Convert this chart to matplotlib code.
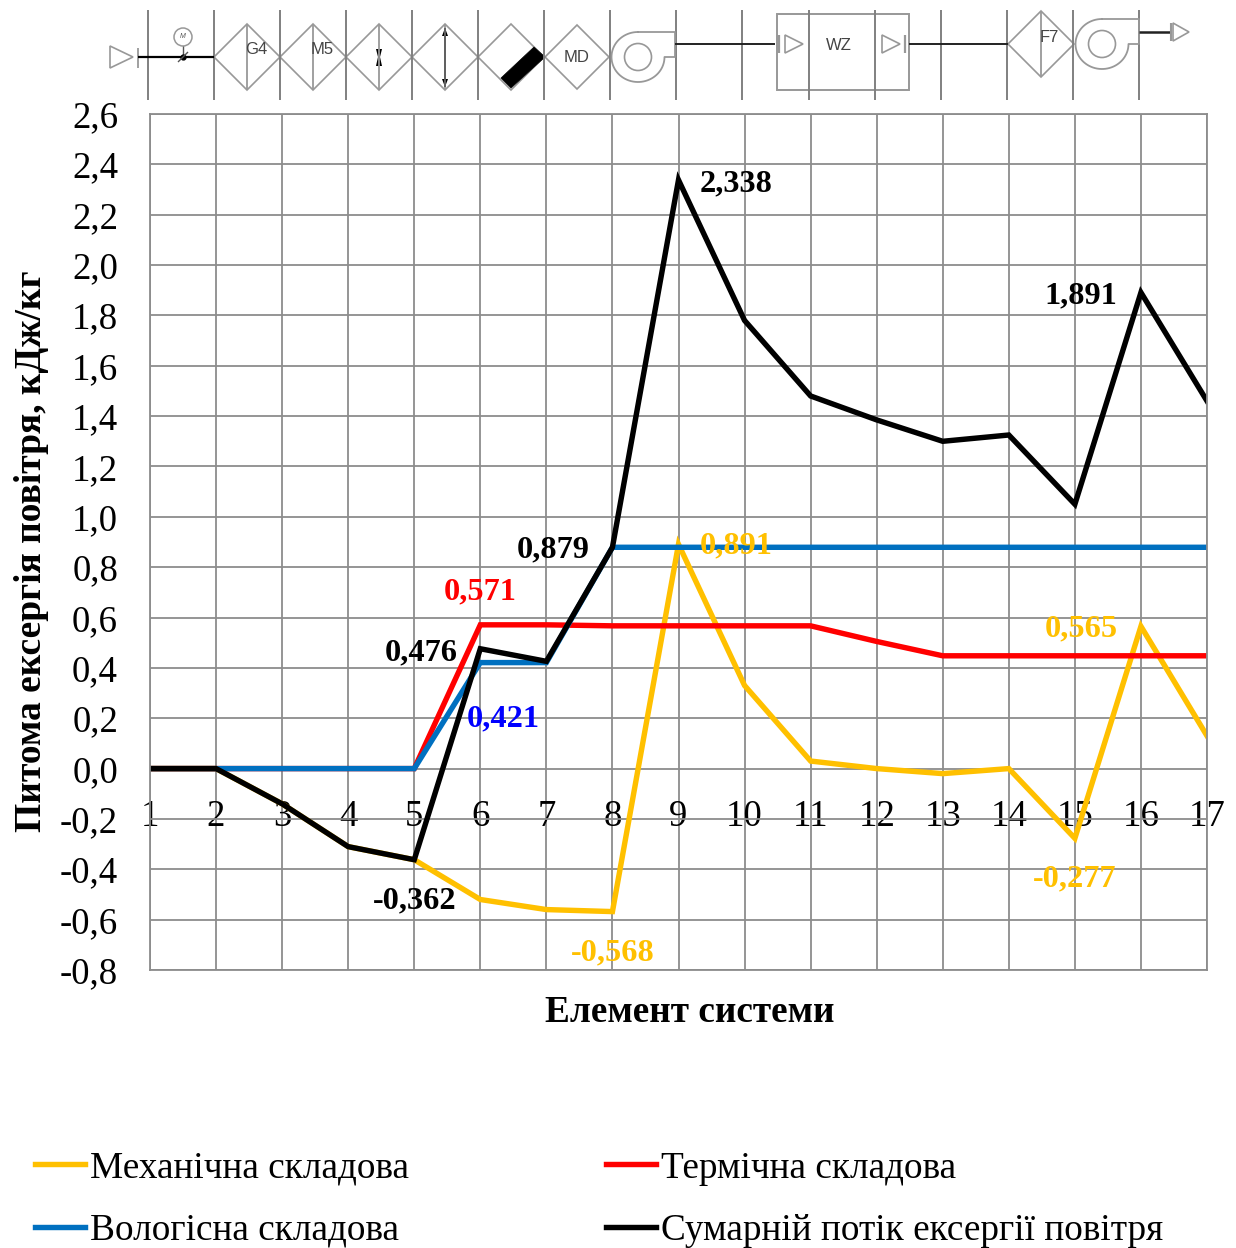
#!/usr/bin/python
import numpy as np
import matplotlib
matplotlib.use("Agg")
import matplotlib.pyplot as plt
from matplotlib.patches import Circle, Polygon, Rectangle

plt.rcParams['font.family'] = ['Liberation Serif', 'DejaVu Serif']

elementy = list(range(1, 18))
mehanichna = [0, 0, -0.14, -0.31, -0.362, -0.52, -0.56, -0.568, 0.891, 0.33, 0.03, 0.0, -0.02, 0.0, -0.277, 0.565, 0.13]
termichna = [0, 0, 0, 0, 0, 0.571, 0.571, 0.567, 0.567, 0.567, 0.567, 0.505, 0.448, 0.448, 0.448, 0.448, 0.448]
vologisna = [0, 0, 0, 0, 0, 0.421, 0.421, 0.879, 0.879, 0.879, 0.879, 0.879, 0.879, 0.879, 0.879, 0.879, 0.879]
sumarnij = [0, 0, -0.14, -0.31, -0.362, 0.476, 0.426, 0.879, 2.338, 1.78, 1.48, 1.385, 1.30, 1.325, 1.05, 1.891, 1.46]
y_ticks = [round(-0.8 + 0.2 * i, 1) for i in range(18)]
y_labels = [f"{v:.1f}".replace(".", ",") for v in y_ticks]

W, H = 1236, 1248
GRIS = "#8c8c8c"
LINEA = "#989898"

fig = plt.figure(figsize=(W / 100, H / 100), dpi=100)
ax = fig.add_axes([150 / W, 1 - 970 / H, (1207 - 150) / W, (970 - 114) / H])

l_meh, = ax.plot(elementy, mehanichna, color="#ffc000", lw=3.9, solid_joinstyle="miter", label="Механічна складова")
l_ter, = ax.plot(elementy, termichna, color="#ff0000", lw=3.9, solid_joinstyle="miter", label="Термічна складова")
l_vol, = ax.plot(elementy, vologisna, color="#0070c0", lw=3.9, solid_joinstyle="miter", label="Вологісна складова")
l_sum, = ax.plot(elementy, sumarnij, color="black", lw=3.9, solid_joinstyle="miter", label="Сумарній потік ексергії повітря")

ax.set_xlim(1, 17)
ax.set_ylim(-0.8, 2.6)
ax.set_xticks(elementy)
ax.set_yticks(y_ticks)
ax.set_yticklabels(y_labels)
ax.grid(True, color=GRIS, lw=1.3)
ax.set_axisbelow(True)
for s in ax.spines.values():
    s.set_color(GRIS)
    s.set_linewidth(1.3)
# los numeros del eje x van pegados a la linea del cero
ax.tick_params(axis='x', length=0, labelsize=26.5, pad=-123)
ax.tick_params(axis='y', length=0, labelsize=26.5, pad=23)
ax.set_xlabel("Елемент системи", fontsize=26.8, fontweight="bold")
ax.xaxis.set_label_coords((690 - 150) / (1207 - 150), -(995 - 970) / (970 - 114))
ax.set_ylabel("Питома ексергія повітря, кДж/кг", fontsize=27, fontweight="bold")
ax.yaxis.set_label_coords(-(150 - 49) / (1207 - 150), (970 - 551) / (970 - 114))

# etiquetas de valores: x, y, texto, color, desplazamiento en pixeles
etiquetas = [
    (9, 2.338, "2,338", "black", 58, -4),
    (16, 1.891, "1,891", "black", -60, -3),
    (8, 0.879, "0,879", "black", -59, -3),
    (9, 0.891, "0,891", "#ffc000", 58, -2),
    (6, 0.571, "0,571", "#ff0000", 0, 33),
    (16, 0.565, "0,565", "#ffc000", -60, -3),
    (6, 0.476, "0,476", "black", -59, -4),
    (6, 0.421, "0,421", "#0000ff", 23, -56),
    (5, -0.362, "-0,362", "black", 0, -41),
    (8, -0.568, "-0,568", "#ffc000", 0, -41),
    (15, -0.277, "-0,277", "#ffc000", 0, -41),
]
for x, y, txt, col, dx, dy in etiquetas:
    ax.annotate(txt, (x, y), xytext=(dx * 0.72, dy * 0.72), textcoords="offset points",
                ha="center", va="center", fontsize=23.3, fontweight="bold", color=col)

fig.legend(handles=[l_meh, l_vol, l_ter, l_sum], ncols=2, loc="lower left",
           bbox_to_anchor=(28 / W, -7 / H), frameon=False, fontsize=26.8,
           handlelength=1.34, handletextpad=0.13, columnspacing=5.29, labelspacing=0.74,
           borderpad=0.2, borderaxespad=0)

# Esquema de la instalacion arriba, en coordenadas de pixel
sq = fig.add_axes([0, 0, 1, 1], facecolor="none")
sq.set_xlim(0, W)
sq.set_ylim(H, 0)
sq.axis("off")


def linea(xs, ys, color=LINEA, lw=1.3):
    sq.plot(xs, ys, color=color, lw=lw, solid_capstyle="butt")


def rombo(cx, cy, r=33, centro=True):
    sq.add_patch(Polygon([(cx - r, cy), (cx, cy - r), (cx + r, cy), (cx, cy + r)], fill=False, ec=LINEA, lw=1.2))
    if centro:
        linea([cx, cx], [cy - r, cy + r])


def triangulo(x0, x1, cy, r):
    sq.add_patch(Polygon([(x0, cy - r), (x1, cy), (x0, cy + r)], fill=False, ec=LINEA, lw=1.2))


def ventilador(cx, cy):
    t = np.radians(np.linspace(270, 0, 60))
    xs = list(cx + 26.5 * np.cos(t)) + [cx + 37, cx + 37, cx]
    ys = list(cy + 25 * np.sin(t)) + [cy, cy - 25, cy - 25]
    sq.plot(xs, ys, color=LINEA, lw=1.3)
    sq.add_patch(Circle((cx, cy), 13.5, fill=False, ec=LINEA, lw=1.2))


for i in range(16):
    linea([147.5 + 66.1 * i] * 2, [10, 100], color="#808080", lw=1.4)

triangulo(110, 133, 57, 11)
linea([138, 138], [48, 68])
linea([138, 214], [57, 57], color="black", lw=1.6)
sq.add_patch(Circle((183, 37), 9, fill=False, ec=LINEA, lw=1.1))
sq.text(183, 37, "M", fontsize=5, style="italic", family="Liberation Sans", ha="center", va="center", color="#555555")
linea([183, 183], [46, 57], color="#555555", lw=1)
sq.plot([183], [57], "o", color="black", ms=3.5)
linea([178, 188], [62, 52], color="#555555", lw=1)

for cx in [247, 313, 379, 445]:
    rombo(cx, 57)
rombo(511, 57, centro=False)
rombo(577, 57, r=32, centro=False)
sq.add_patch(Polygon([(534, 47), (545, 57), (511, 88), (501, 78)], fc="black", ec="black", lw=0.5))
# marcas de las compuertas
sq.add_patch(Polygon([(376, 49), (382, 49), (380, 57), (382, 66), (376, 66), (378, 57)], fc="black", ec="none"))
sq.add_patch(Polygon([(445, 28), (448, 36), (442, 36)], fc="black", ec="none"))
sq.add_patch(Polygon([(445, 87), (448, 79), (442, 79)], fc="black", ec="none"))
linea([445, 445], [28, 87], color="#555555", lw=1.2)
for txt, x, y in [("G4", 256, 50), ("M5", 322, 49), ("MD", 577, 57), ("WZ", 839, 45), ("F7", 1049, 37)]:
    sq.text(x, y, txt, fontsize=12, family="Liberation Sans", ha="center", va="center", color="#444444")

ventilador(638, 57)
linea([675, 775], [44, 44], color="#222222", lw=1.4)
sq.add_patch(Rectangle((777, 14), 132, 76, fill=False, ec=LINEA, lw=1.4))
linea([779, 779], [35, 53], lw=1.6)
triangulo(785, 803, 44, 9)
triangulo(882, 900, 44, 9)
linea([905, 905], [35, 53], lw=1.6)
linea([909, 1008], [44, 44], color="#222222", lw=1.4)
rombo(1041, 44)
ventilador(1102, 44)
linea([1139, 1170], [32, 32], color="#222222", lw=1.8)
linea([1171, 1171], [23, 41], lw=1.5)
triangulo(1173, 1189, 32, 9)

fig.savefig("out.png", dpi=100)
